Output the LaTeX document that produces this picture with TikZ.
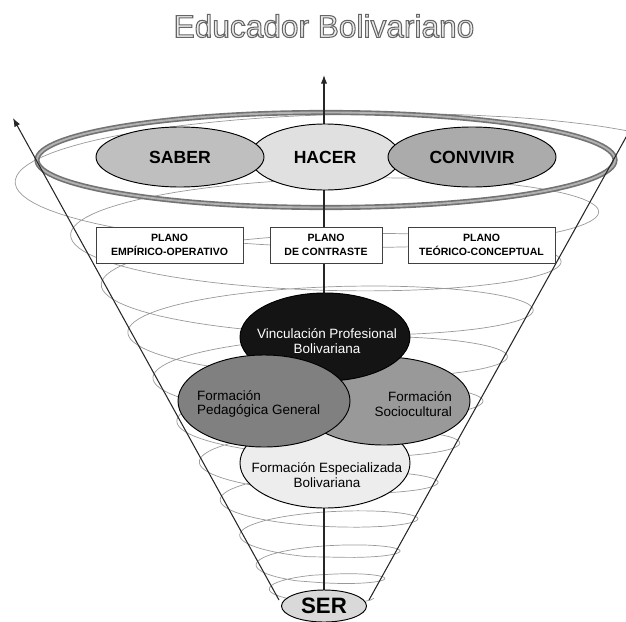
\documentclass[tikz,border=0pt]{standalone}
\usepackage{fontspec}
\setmainfont{Liberation Sans}
\usetikzlibrary{arrows.meta,shapes.geometric}

\begin{document}
\begin{tikzpicture}[x=0.03cm,y=-0.03cm,>=Latex,
  oval/.style={ellipse,draw=black,line width=0.8pt,inner sep=0pt},
  plano/.style={draw=black!75,fill=white,line width=0.6pt,minimum height=1.08cm,align=center,font=\bfseries\fontsize{9}{11.5}\selectfont,inner sep=1pt},
  vtxt/.style={font=\fontsize{11.5}{12.3}\selectfont,inner sep=0pt}]
\useasboundingbox (0,0) rectangle (626,621);
\clip (0,0) rectangle (626,621);
\node[font=\fontsize{27}{30}\selectfont,text=black!8] (title) at (324,26) {\special{pdf:literal direct 2 Tr 0.9 w 0.4 G}Educador Bolivariano\special{pdf:literal direct 0 Tr 0.4 w 0 G}};
\draw[black!40,line width=0.6pt] plot[domain=0.002:1,samples=800] ({324+(50+240*\x+70*\x^16)*cos(3960*\x^0.75-30)},{598-435*\x+0.17*(50+240*\x+70*\x^16)*sin(3960*\x^0.75-30)});
\node[ellipse,draw=black!55,line width=1.4pt,double=black!30,double distance=1.6pt,minimum width=17.34cm,minimum height=2.85cm] (ring) at (326,160) {};
\coordinate (ax_bot) at (324,592);
\coordinate (ax_top) at (324,75);
\coordinate (cl_bot) at (279,600);
\coordinate (cl_top) at (13,118);
\coordinate (cr_bot) at (369,600);
\coordinate (cr_top) at (640,112);
\draw[black!85,line width=0.9pt,-{Latex[length=2.6mm,width=1.9mm]}] (ax_bot)--(ax_top);
\draw[black!85,line width=0.9pt,-{Latex[length=2.6mm,width=1.9mm]}] (cl_bot)--(cl_top);
\draw[black!85,line width=0.9pt,-{Latex[length=2.6mm,width=1.9mm]}] (cr_bot)--(cr_top);
\node[oval,fill=black!12,minimum width=4.5cm,minimum height=1.98cm,font=\bfseries\fontsize{15}{17}\selectfont] (hacer) at (325,157) {HACER};
\node[oval,fill=black!25,minimum width=5.04cm,minimum height=1.8cm,font=\bfseries\fontsize{15}{17}\selectfont] (saber) at (180,157) {SABER};
\node[oval,fill=black!33,minimum width=5.04cm,minimum height=1.8cm,font=\bfseries\fontsize{15}{17}\selectfont] (convivir) at (472,157) {CONVIVIR};
\node[plano,minimum width=4.41cm] (pl_emp) at (169.5,245) {PLANO\\EMPÍRICO-OPERATIVO};
\node[plano,minimum width=3.36cm] (pl_con) at (326,245) {PLANO\\DE CONTRASTE};
\node[plano,minimum width=4.41cm] (pl_teo) at (481.5,245) {PLANO\\TEÓRICO-CONCEPTUAL};
\node[oval,fill=black!7,minimum width=5.1cm,minimum height=2.7cm] (f_esp) at (325,463) {};
\node[oval,fill=black!40,minimum width=5.16cm,minimum height=2.64cm] (f_soc) at (384,401) {};
\node[oval,fill=black!92,minimum width=5.1cm,minimum height=2.64cm] (f_vinc) at (325,337) {};
\node[oval,fill=black!50,minimum width=5.16cm,minimum height=2.76cm] (f_ped) at (264,401) {};
\node[vtxt,text=white,align=center] (vinc_t) at (327,341) {Vinculación Profesional\\Bolivariana};
\node[vtxt,align=left,anchor=west] (ped_t) at (197,404) {Formación\\Pedagógica General};
\node[vtxt,align=right,anchor=east] (soc_t) at (452,404) {Formación\\Sociocultural};
\node[vtxt,align=center] (esp_t) at (327,475) {Formación Especializada\\Bolivariana};
\node[oval,fill=black!15,minimum width=2.55cm,minimum height=0.96cm,font=\bfseries\fontsize{19}{20}\selectfont] (ser) at (324,606) {SER};
\end{tikzpicture}
\end{document}
